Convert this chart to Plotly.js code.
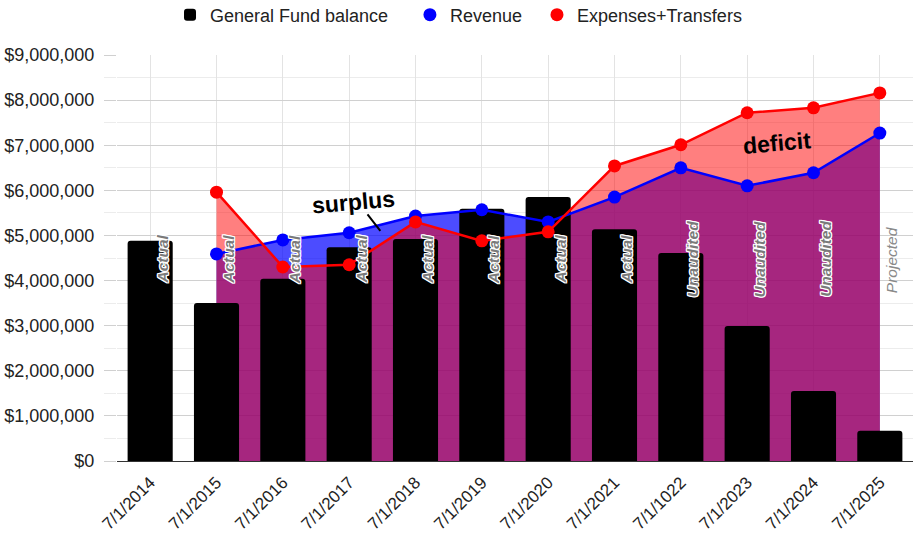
<!DOCTYPE html>
<html>
<head>
<meta charset="utf-8">
<script src="https://cdn.plot.ly/plotly-3.0.1.min.js"></script>
<style>html,body{margin:0;padding:0;background:#fff;}#chart{width:922px;height:534px;}</style>
</head>
<body>
<div id="chart"></div>
<script>
const categories = ["7/1/2014","7/1/2015","7/1/2016","7/1/2017","7/1/2018","7/1/2019","7/1/2020","7/1/2021","7/1/1022","7/1/2023","7/1/2024","7/1/2025"];
const fundBalance = [4880000,3500000,4040000,4740000,4920000,5590000,5850000,5140000,4610000,2990000,1550000,670000];
const revenue = [null,4590000,4900000,5060000,5430000,5570000,5300000,5850000,6500000,6100000,6390000,7270000];
const expenses = [null,5960000,4300000,4350000,5300000,4880000,5080000,6540000,7010000,7720000,7830000,8160000];
const statusLabels = ["Actual","Actual","Actual","Actual","Actual","Actual","Actual","Actual","Unaudited","Unaudited","Unaudited","Projected"];
const yTickVals = [0,1000000,2000000,3000000,4000000,5000000,6000000,7000000,8000000,9000000];
const yTickText = ["$0","$1,000,000","$2,000,000","$3,000,000","$4,000,000","$5,000,000","$6,000,000","$7,000,000","$8,000,000","$9,000,000"];

const FONT = "Liberation Sans, Arial, sans-serif";

const traces = [
  {type:'scatter', mode:'none', x:categories, y:revenue, fill:'tozeroy', fillcolor:'rgba(0,0,255,0.7)', showlegend:false, hoverinfo:'skip', xaxis:'x', yaxis:'y'},
  {type:'scatter', mode:'none', x:categories, y:expenses, fill:'tozeroy', fillcolor:'rgba(255,0,0,0.5)', showlegend:false, hoverinfo:'skip', xaxis:'x', yaxis:'y'},
  {type:'bar', name:'General Fund balance', legend:'legend', x:categories, y:fundBalance, marker:{color:'#000000', cornerradius:3}, width:0.68, xaxis:'x2', yaxis:'y2'},
  {type:'scatter', mode:'lines', x:categories, y:revenue, line:{color:'#0000ff', width:2.5}, showlegend:false, xaxis:'x3', yaxis:'y3'},
  {type:'scatter', mode:'markers', name:'Revenue', legend:'legend2', x:categories, y:revenue, marker:{color:'#0000ff', size:13}, xaxis:'x3', yaxis:'y3'},
  {type:'scatter', mode:'lines', x:categories, y:expenses, line:{color:'#ff0000', width:2.5}, showlegend:false, xaxis:'x3', yaxis:'y3'},
  {type:'scatter', mode:'markers', name:'Expenses+Transfers', legend:'legend3', x:categories, y:expenses, marker:{color:'#ff0000', size:13}, xaxis:'x3', yaxis:'y3'}
];

const labelY = 4470000;
const outline = '1px 1px 0 #fff, -1px -1px 0 #fff, 1px -1px 0 #fff, -1px 1px 0 #fff, 0 1px 0 #fff, 0 -1px 0 #fff, 1px 0 0 #fff, -1px 0 0 #fff';
const annotations = statusLabels.map((t, i) => ({
  x: i, y: labelY, xref:'x', yref:'y', text: t, showarrow:false, textangle:-90, xshift: 12,
  font: t === 'Projected'
    ? {family:FONT, size:15.5, style:'italic', color:'#8a8a8a'}
    : {family:FONT, size:15.5, style:'italic', weight:'bold', color:'#7a7a7a', shadow:outline}
}));
annotations.push({x:3.07, y:5740000, xref:'x', yref:'y', text:'surplus', showarrow:false, textangle:-5,
  font:{family:FONT, size:23, weight:'bold', color:'#000'}});
annotations.push({x:3.47, y:5100000, xref:'x', yref:'y', text:'', showarrow:true, arrowhead:0, arrowwidth:2, arrowcolor:'#000', ax:-14, ay:-18, standoff:0});
annotations.push({x:9.45, y:7050000, xref:'x', yref:'y', text:'deficit', showarrow:false, textangle:-5,
  font:{family:FONT, size:23, weight:'bold', color:'#000'}});

const legendBase = {orientation:'h', yanchor:'middle', y:1.0985, xanchor:'left', font:{size:18, family:FONT, color:'#222'}, bgcolor:'rgba(0,0,0,0)'};
const xr = [-0.5, 11.5];
const yr = [0, 9000000];
const layout = {
  width:922, height:534,
  margin:{l:117, r:9, t:55, b:73, autoexpand:false},
  paper_bgcolor:'#fff', plot_bgcolor:'#fff',
  font:{family:FONT, color:'#222'},
  showlegend:true,
  legend: Object.assign({}, legendBase, {x:0.0666}),
  legend2: Object.assign({}, legendBase, {x:0.368}),
  legend3: Object.assign({}, legendBase, {x:0.5276}),
  xaxis:{type:'category', categoryorder:'array', categoryarray:categories, range:xr, showgrid:true, gridcolor:'#e3e3e3', gridwidth:1,
         showline:true, linecolor:'#333', linewidth:1, ticks:'', tickangle:-45, ticklabelstandoff:4, tickfont:{size:17, family:FONT, color:'#222'}, fixedrange:true},
  yaxis:{range:yr, tickvals:yTickVals, ticktext:yTickText, showgrid:true, gridcolor:'#d0d0d0', gridwidth:1, zeroline:false,
         ticks:'outside', ticklen:12, tickcolor:'#d0d0d0', ticklabelstandoff:6, tickfont:{size:18, family:FONT, color:'#222'},
         minor:{dtick:500000, showgrid:true, gridcolor:'#ececec', ticks:'outside', ticklen:12, tickcolor:'#ececec'}, fixedrange:true},
  xaxis2:{type:'category', categoryorder:'array', categoryarray:categories, range:xr, overlaying:'x', visible:false, fixedrange:true},
  yaxis2:{range:yr, overlaying:'y', visible:false, fixedrange:true},
  xaxis3:{type:'category', categoryorder:'array', categoryarray:categories, range:xr, overlaying:'x', visible:false, fixedrange:true},
  yaxis3:{range:yr, overlaying:'y', visible:false, fixedrange:true},
  annotations: annotations
};
Plotly.newPlot('chart', traces, layout, {displayModeBar:false, staticPlot:true});
</script>
</body>
</html>
